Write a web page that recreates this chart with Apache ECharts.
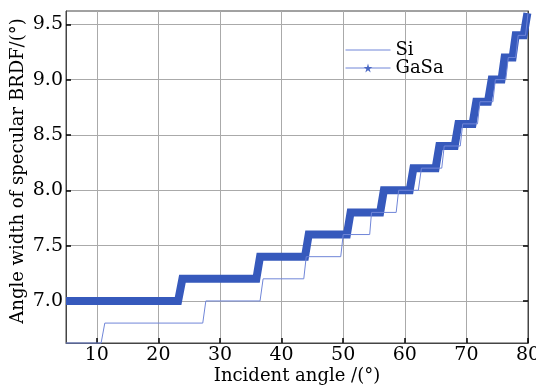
<!DOCTYPE html>
<html><head><meta charset="utf-8">
<script src="https://cdn.jsdelivr.net/npm/echarts@6/dist/echarts.min.js"></script>
<style>html,body{margin:0;padding:0;background:#fff}#c{width:536px;height:385px}</style>
</head><body><div id="c"></div>
<script>
const xTicks = [10, 20, 30, 40, 50, 60, 70, 80];
const yTicks = [7.0, 7.5, 8.0, 8.5, 9.0, 9.5];
const siX = [5, 10.7, 11.3, 27.2, 27.7, 36.5, 37.0, 43.6, 44.0, 49.6, 50.0, 54.3, 54.6, 58.6, 59.0, 62.2, 62.7, 66.0, 66.4, 69.0, 69.4, 71.8, 72.2, 74.3, 74.7, 76.4, 76.8, 78.0, 78.4, 79.6, 80.0];
const siY = [6.62, 6.62, 6.8, 6.8, 7.0, 7.0, 7.2, 7.2, 7.4, 7.4, 7.6, 7.6, 7.8, 7.8, 8.0, 8.0, 8.2, 8.2, 8.4, 8.4, 8.6, 8.6, 8.8, 8.8, 9.0, 9.0, 9.2, 9.2, 9.4, 9.4, 9.6];
const gasaX = [5, 23.2, 23.9, 35.9, 36.5, 43.8, 44.4, 50.6, 51.2, 56.0, 56.6, 60.8, 61.4, 65.0, 65.6, 68.1, 68.7, 71.0, 71.6, 73.5, 74.1, 75.7, 76.2, 77.5, 78.0, 79.3, 79.9];
const gasaY = [7.0, 7.0, 7.2, 7.2, 7.4, 7.4, 7.6, 7.6, 7.8, 7.8, 8.0, 8.0, 8.2, 8.2, 8.4, 8.4, 8.6, 8.6, 8.8, 8.8, 9.0, 9.0, 9.2, 9.2, 9.4, 9.4, 9.6];

const font = 'DejaVu Serif';
const star = 'path://M50,0 L61,35 L98,35 L68,57 L79,91 L50,70 L21,91 L32,57 L2,35 L39,35 Z';
const chart = echarts.init(document.getElementById('c'), null, {renderer: 'canvas'});
chart.setOption({
  animation: false,
  grid: {left: 66, right: 8, top: 11, bottom: 42, show: true, borderColor: '#444', borderWidth: 1,
    outerBoundsMode: 'none', containLabel: false},
  legend: {
    orient: 'vertical', left: 340, top: 36, itemWidth: 45, itemHeight: 11, itemGap: 0, itemTextGap: 3,
    textStyle: {fontFamily: font, fontSize: 18, color: '#000'},
    lineStyle: {width: 1},
    data: [
      {name: 'Si', itemStyle: {opacity: 0}, lineStyle: {color: '#7086d8', width: 1}},
      {name: 'GaSa', itemStyle: {color: '#4a68c4'}, lineStyle: {color: '#7086d8', width: 1}}
    ]
  },
  xAxis: {
    type: 'value', min: 5, max: 80,
    name: 'Incident angle /(°)', nameLocation: 'middle', nameGap: 24, nameMoveOverlap: false,
    nameTextStyle: {fontFamily: font, fontSize: 18, color: '#000'},
    axisLine: {lineStyle: {color: '#444', width: 1}},
    axisTick: {inside: true, length: 5, lineStyle: {color: '#000', width: 1.5}, customValues: xTicks},
    axisLabel: {fontFamily: font, fontSize: 19, color: '#000', margin: 3, customValues: xTicks},
    splitLine: {show: true, lineStyle: {color: '#aaa', width: 1}}
  },
  yAxis: [{
    type: 'value', min: 6.62, max: 9.62,
    name: 'Angle width of specular BRDF/(°)', nameLocation: 'middle', nameGap: 39, nameMoveOverlap: false,
    nameTextStyle: {fontFamily: font, fontSize: 18, color: '#000', padding: [0, 0, 0, 12]},
    axisLine: {show: true, lineStyle: {color: '#444', width: 1}},
    axisTick: {show: true, inside: true, length: 5, lineStyle: {color: '#000', width: 1.5}, customValues: yTicks},
    axisLabel: {fontFamily: font, fontSize: 19, color: '#000', margin: 3, customValues: yTicks,
      formatter: v => v.toFixed(1)},
    splitLine: {show: true, lineStyle: {color: '#aaa', width: 1}}
  }, {
    type: 'value', min: 6.62, max: 9.62, position: 'right',
    axisLine: {show: true, lineStyle: {color: '#444', width: 1}},
    axisTick: {show: true, inside: true, length: 5, lineStyle: {color: '#000', width: 1.5}, customValues: yTicks},
    axisLabel: {show: false},
    splitLine: {show: false}
  }],
  series: [{
    name: 'Si', type: 'line', symbol: 'none', clip: false,
    data: siX.map((x, i) => [x, siY[i]]),
    lineStyle: {color: '#7086d8', width: 1}, itemStyle: {color: '#7086d8'}, z: 3
  }, {
    name: 'GaSa', type: 'line', symbol: star, symbolSize: 10, showSymbol: false,
    data: gasaX.map((x, i) => [x, gasaY[i]]),
    lineStyle: {color: '#3659bc', width: 8, join: 'miter', cap: 'butt'},
    itemStyle: {color: '#4a68c4'}, z: 2
  }]
});
</script></body></html>
